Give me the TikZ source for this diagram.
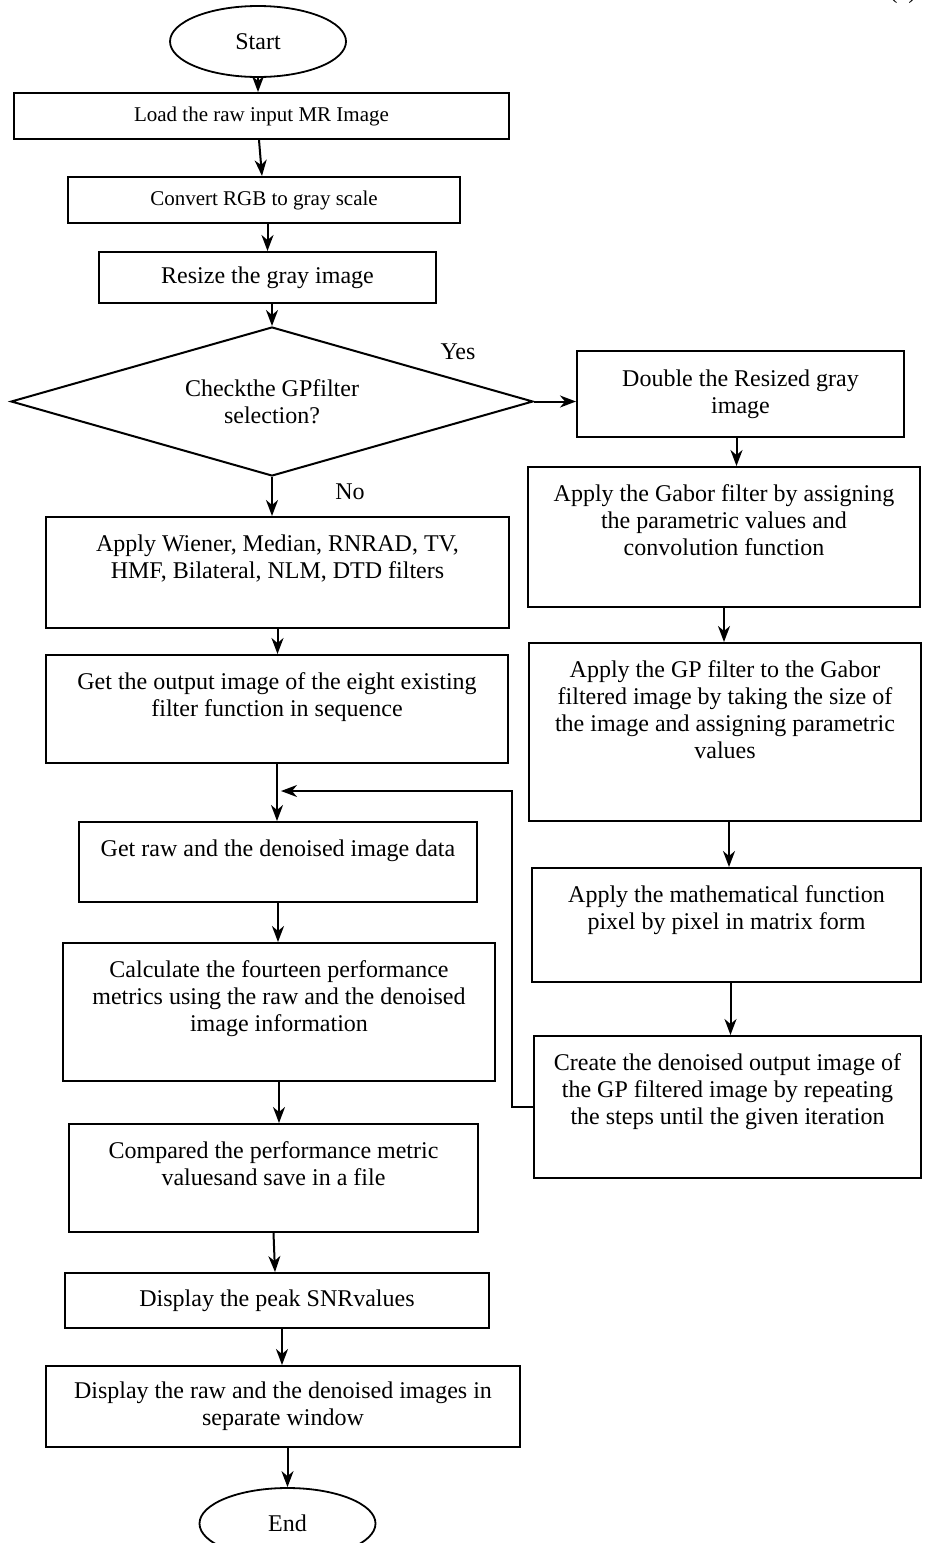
\documentclass[tikz,border=0pt]{standalone}
\usepackage{fontspec}
\setmainfont{Liberation Serif}
\usetikzlibrary{shapes.geometric,arrows.meta,positioning,calc}
\tikzstyle{stepbox}=[rectangle,draw=black,line width=2pt,inner sep=0pt,align=center]
\tikzstyle{steptext}=[anchor=north,inner sep=0pt,align=center]
\tikzstyle{terminal}=[ellipse,draw=black,line width=1.8pt,minimum width=176pt,
minimum height=71pt,inner sep=0pt]
\tikzstyle{decision}=[diamond,draw=black,line width=2pt,inner sep=0pt,align=center,
shape aspect=3.5]
\newcommand{\smalltext}{\fontsize{21}{24}\selectfont}

\begin{document}
\begin{tikzpicture}[x=1pt,y=-1pt,line width=2pt,
    >={Stealth[length=16pt,width=12pt,inset=5pt]},
    font=\fontsize{24}{27}\selectfont]
    \useasboundingbox (0,0) rectangle (928,1543);

    \node[anchor=base,inner sep=0pt] (tag) at (903,-2) {(a)};

    % main column
    \node[terminal] (start) at (258,41.5) {Start};
    \node[stepbox,minimum width=495pt,minimum height=46pt,font=\smalltext] (load) at (261.5,116) {Load the raw input MR Image};
    \node[stepbox,minimum width=392pt,minimum height=46pt,font=\smalltext] (gray) at (264,200) {Convert RGB to gray scale};
    \node[stepbox,minimum width=337pt,minimum height=51pt] (resize) at (267.5,277.5) {Resize the gray image};
    \node[decision,minimum width=522pt,minimum height=149pt] (check) at (272,401.5) {Checkthe GPfilter\\selection?};
    \node (yes) at (458,352) {Yes};
    \node (no) at (350,492) {No};

    % GP filter branch
    \node[stepbox,minimum width=327pt,minimum height=86pt] (double) at (740.5,394) {Double the Resized gray\\image};
    \node[stepbox,minimum width=392pt,minimum height=140pt] (gabor) at (724,537) {};
    \node[steptext] (gabortxt) at ([yshift=-18pt]gabor.north) {Apply the Gabor filter by assigning\\the parametric values and\\convolution function};
    \node[stepbox,minimum width=392pt,minimum height=178pt] (gp) at (725,732) {};
    \node[steptext] (gptxt) at ([yshift=-18pt]gp.north) {Apply the GP filter to the Gabor\\filtered image by taking the size of\\the image and assigning parametric\\values};
    \node[stepbox,minimum width=389pt,minimum height=114pt] (math) at (726.5,925) {};
    \node[steptext] (mathtxt) at ([yshift=-18pt]math.north) {Apply the mathematical function\\pixel by pixel in matrix form};
    \node[stepbox,minimum width=387pt,minimum height=142pt] (create) at (727.5,1107) {};
    \node[steptext] (createtxt) at ([yshift=-18pt]create.north) {Create the denoised output image of\\the GP filtered image by repeating\\the steps until the given iteration};

    % existing filters branch
    \node[stepbox,minimum width=463pt,minimum height=111pt] (filters) at (277.5,572.5) {};
    \node[steptext] (filterstxt) at ([yshift=-18pt]filters.north) {Apply Wiener, Median, RNRAD, TV,\\HMF, Bilateral, NLM, DTD filters};
    \node[stepbox,minimum width=462pt,minimum height=108pt] (output) at (277,709) {};
    \node[steptext] (outputtxt) at ([yshift=-18pt]output.north) {Get the output image of the eight existing\\filter function in sequence};
    \node[stepbox,minimum width=398pt,minimum height=80pt] (data) at (278,862) {};
    \node[steptext] (datatxt) at ([yshift=-18pt]data.north) {Get raw and the denoised image data};
    \node[stepbox,minimum width=432pt,minimum height=138pt] (metrics) at (279,1012) {};
    \node[steptext] (metricstxt) at ([yshift=-18pt]metrics.north) {Calculate the fourteen performance\\metrics using the raw and the denoised\\image information};
    \node[stepbox,minimum width=409pt,minimum height=108pt] (compare) at (273.5,1178) {};
    \node[steptext] (comparetxt) at ([yshift=-18pt]compare.north) {Compared the performance metric\\valuesand save in a file};
    \node[stepbox,minimum width=424pt,minimum height=55pt] (peak) at (277,1300.5) {Display the peak SNRvalues};
    \node[stepbox,minimum width=474pt,minimum height=81pt] (show) at (283,1406.5) {Display the raw and the denoised images in\\separate window};
    \node[terminal] (end) at (287.5,1523.5) {End};

    \coordinate (loopturn) at (512,791);
    \coordinate (merge) at (281,791);

    % connectors
    \draw[->] (start.south) -- (start.south |- load.north);
    \draw[->] ([xshift=-2.5pt]load.south) -- ([xshift=-2pt]gray.north);
    \draw[->] (resize.north |- gray.south) -- (resize.north);
    \draw[->] (check.north |- resize.south) -- (check.north);
    \draw[->] (check.east) -- (check.east -| double.west);
    \draw[->] (check.south) -- (check.south |- filters.north);
    \draw[->] ([xshift=-4pt]double.south) -- ([xshift=-4pt]double.south |- gabor.north);
    \draw[->] (gabor.south) -- (gabor.south |- gp.north);
    \draw[->] ([xshift=4pt]gp.south) -- ([xshift=4pt]gp.south |- math.north);
    \draw[->] ([xshift=4pt]math.south) -- ([xshift=4pt]math.south |- create.north);
    \draw[->] (create.west) -| (loopturn) -- (merge);
    \draw[->] (filters.south) -- (filters.south |- output.north);
    \draw[->] (output.south) -- (output.south |- data.north);
    \draw[->] (data.south) -- (data.south |- metrics.north);
    \draw[->] (metrics.south) -- (metrics.south |- compare.north);
    \draw[->] (compare.south) -- ([xshift=-2pt]peak.north);
    \draw[->] ([xshift=5pt]peak.south) -- ([xshift=5pt]peak.south |- show.north);
    \draw[->] (show.south -| end.north) -- (end.north);
\end{tikzpicture}
\end{document}
